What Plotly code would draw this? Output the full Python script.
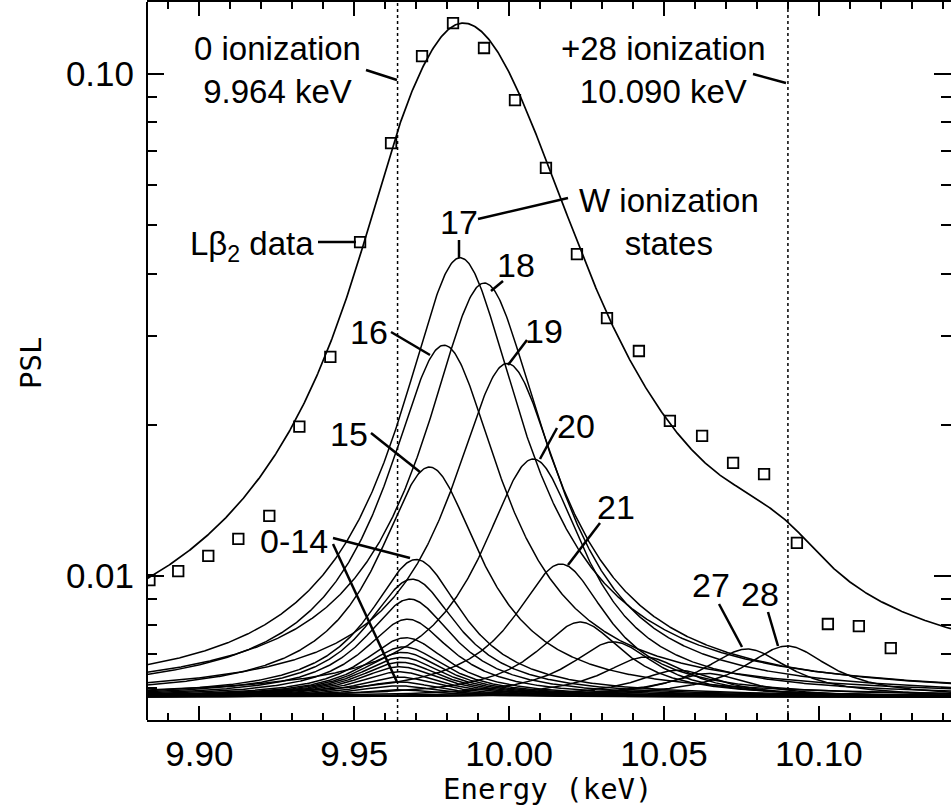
import numpy as np
import plotly.graph_objects as go

# ---------------- data ----------------
# Measured L-beta-2 spectrum (open squares)
data_energy_kev = [9.8839, 9.8932, 9.9029, 9.9126, 9.9226, 9.9323, 9.9423, 9.9519,
                   9.9619, 9.9719, 9.9819, 9.9919, 10.0019, 10.0119, 10.0219, 10.0316,
                   10.0419, 10.0519, 10.0623, 10.0723, 10.0823, 10.0929, 10.1029,
                   10.1129, 10.1232]
data_psl = [0.00982, 0.01023, 0.01097, 0.01186, 0.01318, 0.01984, 0.0273, 0.0462,
            0.0727, 0.1083, 0.1260, 0.1124, 0.0885, 0.0649, 0.0437, 0.0326,
            0.02805, 0.02036, 0.01901, 0.01680, 0.01596, 0.01164, 0.00803,
            0.00795, 0.00719]

# W ionization-state fit components (peak energy and peak height of each curve)
ion_state = list(range(29))
state_peak_kev = [9.9640, 9.9641, 9.9642, 9.9643, 9.9645, 9.9647, 9.9650, 9.9653,
                  9.9657, 9.9661, 9.9666, 9.9672, 9.9679, 9.9687, 9.9700, 9.9743,
                  9.9790, 9.9842, 9.9920, 9.9994, 10.0078, 10.0167, 10.0229,
                  10.0336, 10.0440, 10.0545, 10.0640, 10.0768, 10.0897]
state_peak_psl = [0.00594, 0.00605, 0.00616, 0.00630, 0.00645, 0.00660, 0.00674,
                  0.00689, 0.00705, 0.00723, 0.00754, 0.00821, 0.00900, 0.00986,
                  0.01079, 0.01648, 0.0288, 0.0430, 0.0383, 0.0265, 0.0171,
                  0.01057, 0.0081, 0.0074, 0.0069, 0.0065, 0.0064, 0.00716, 0.00726]
background_psl = 0.00575
lorentz_hwhm_kev = 0.016

ref_energy_kev = [9.964, 10.090]   # 0 and +28 ionization

x_range = [9.88312, 10.14264]
y_log_range = [-2.2863, -0.8577]
x_tick_vals = [9.90, 9.95, 10.00, 10.05, 10.10]
x_tick_text = ["9.90", "9.95", "10.00", "10.05", "10.10"]
y_tick_vals = [0.01, 0.10]
y_tick_text = ["0.01", "0.10"]
y_minor_vals = [0.006, 0.007, 0.008, 0.009, 0.02, 0.03, 0.04, 0.05, 0.06, 0.07, 0.08, 0.09]

# ---------------- figure ----------------
W, H = 951, 812
ML, MR, MT, MB = 147, 0, 2, 92
PW, PH = W - ML - MR, H - MT - MB


def px(x, y):
    return (x - ML) / PW, (H - MB - y) / PH


energy = np.linspace(x_range[0], x_range[1], 900)
fig = go.Figure()

total = np.full_like(energy, background_psl)
for k, e0, p in zip(ion_state, state_peak_kev, state_peak_psl):
    prof = (p - background_psl) / (1.0 + ((energy - e0) / lorentz_hwhm_kev) ** 2)
    total = total + prof
    fig.add_trace(go.Scatter(x=energy, y=background_psl + prof, mode="lines",
                             line=dict(color="black", width=1.5),
                             showlegend=False, hoverinfo="skip",
                             name=f"state {k}"))

fig.add_trace(go.Scatter(x=energy, y=total, mode="lines",
                         line=dict(color="black", width=1.7), showlegend=False,
                         name="fit"))
fig.add_trace(go.Scatter(x=data_energy_kev, y=data_psl, mode="markers",
                         marker=dict(symbol="square-open", size=10.5, color="black",
                                     line=dict(width=1.8, color="black")),
                         showlegend=False, name="Lβ2 data"))

shapes = []
for e in ref_energy_kev:
    shapes.append(dict(type="line", xref="x", yref="paper", x0=e, x1=e, y0=0, y1=1,
                       line=dict(color="black", width=1.5, dash="dot")))
# left axis line
shapes.append(dict(type="line", xref="paper", yref="paper", x0=0, x1=0, y0=0, y1=1,
                   line=dict(color="black", width=2)))

leaders = [
    ((366, 70), (397, 80)),
    ((753, 74), (786, 83)),
    ((318, 242), (356, 242)),
    ((478, 219), (568, 198)),
    ((459, 240), (459, 258)),
    ((503, 281), (491, 291)),
    ((391, 332), (430, 355)),
    ((527, 340), (508, 365)),
    ((371, 433), (420, 472)),
    ((557, 428), (540, 459)),
    ((600, 523), (568, 565)),
    ((333, 538), (410, 558)),
    ((333, 544), (397, 682)),
    ((719, 604), (742, 647)),
    ((768, 612), (778, 646)),
]
for (a, b) in leaders:
    x0, y0 = px(*a)
    x1, y1 = px(*b)
    shapes.append(dict(type="line", xref="paper", yref="paper", x0=x0, y0=y0,
                       x1=x1, y1=y1, line=dict(color="black", width=2.5)))

LABEL_FONT = dict(family="Liberation Sans, Arial, sans-serif", size=33, color="black")
NUM_FONT = dict(family="Liberation Sans, Arial, sans-serif", size=34, color="black")
TITLE_FONT = dict(family="DejaVu Sans Mono, monospace", size=29, color="black")

labels = [
    ("0 ionization<br>9.964 keV", 277, 70, "center", LABEL_FONT),
    ("+28 ionization<br>10.090 keV", 663, 70, "center", LABEL_FONT),
    ("Lβ<sub>2</sub> data", 316, 246, "right", LABEL_FONT),
    ("W ionization<br>states", 669, 222, "center", LABEL_FONT),
    ("17", 459, 222, "center", NUM_FONT),
    ("18", 516, 265, "center", NUM_FONT),
    ("16", 369, 332, "center", NUM_FONT),
    ("19", 544, 331, "center", NUM_FONT),
    ("15", 349, 434, "center", NUM_FONT),
    ("20", 576, 426, "center", NUM_FONT),
    ("21", 616, 507, "center", NUM_FONT),
    ("0-14", 294, 541, "center", NUM_FONT),
    ("27", 711, 585, "center", NUM_FONT),
    ("28", 760, 594, "center", NUM_FONT),
]
annotations = []
for text, x, y, anchor, font in labels:
    xp, yp = px(x, y)
    annotations.append(dict(text=text, x=xp, y=yp, xref="paper", yref="paper",
                            xanchor=anchor, yanchor="middle", showarrow=False,
                            font=font, align="center"))

# axis titles
xp, yp = px(548, 789)
annotations.append(dict(text="Energy (keV)", x=xp, y=yp, xref="paper", yref="paper",
                        xanchor="center", yanchor="middle", showarrow=False,
                        font=TITLE_FONT))
xp, yp = px(31, 363)
annotations.append(dict(text="PSL", x=xp, y=yp, xref="paper", yref="paper",
                        xanchor="center", yanchor="middle", showarrow=False,
                        textangle=-90, font=TITLE_FONT))

TICK_FONT = dict(family="Liberation Sans, Arial, sans-serif", size=35, color="black")

fig.update_layout(
    width=W, height=H,
    margin=dict(l=ML, r=MR, t=MT, b=MB, pad=0),
    paper_bgcolor="white", plot_bgcolor="white",
    shapes=shapes, annotations=annotations,
    xaxis=dict(range=x_range, showgrid=False, zeroline=False,
               showline=True, linecolor="black", linewidth=2, mirror="ticks",
               ticks="inside", ticklen=14, tickwidth=2, tickcolor="black",
               tickvals=x_tick_vals, ticktext=x_tick_text, tickfont=TICK_FONT,
               ticklabelstandoff=2,
               minor=dict(ticks="inside", dtick=0.01, tick0=9.90, ticklen=7,
                          tickwidth=2, tickcolor="black", showgrid=False)),
    yaxis=dict(type="log", range=y_log_range, showgrid=False, zeroline=False,
               showline=False, mirror="ticks",
               ticks="inside", ticklen=17, tickwidth=2, tickcolor="black",
               tickvals=y_tick_vals, ticktext=y_tick_text, tickfont=TICK_FONT,
               ticklabelstandoff=12,
               minor=dict(ticks="inside", tickvals=y_minor_vals, ticklen=10,
                          tickwidth=2, tickcolor="black", showgrid=False)),
)

fig.write_html("out.html")
